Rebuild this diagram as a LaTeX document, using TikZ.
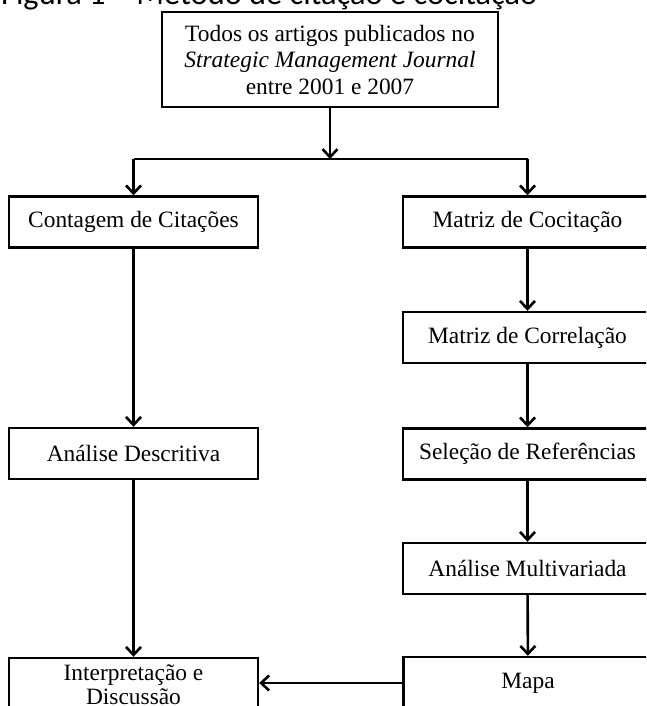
\documentclass[tikz,border=0pt]{standalone}
\usepackage{fontspec}
\setmainfont{Liberation Serif}
\newfontfamily\titlefont{Carlito}
\usetikzlibrary{arrows.meta}
\begin{document}
\begin{tikzpicture}[x=1pt,y=-1pt,
  box/.style={draw=black,line width=2.4pt,fill=white,inner sep=0pt,align=center,
    font=\fontsize{23.4}{24}\selectfont,minimum width=249pt,minimum height=51pt},
  conn/.style={draw=black,line width=2.6pt},
  arr/.style={conn,-{Straight Barb[length=8pt,width=15pt]}}]
\useasboundingbox (0,0) rectangle (646,706);
\clip (0,0) rectangle (646,706);
\fill[white] (0,0) rectangle (646,706);
\node[anchor=base west,inner sep=0pt,font=\titlefont\fontsize{32.4}{34}\selectfont] (title) at (1,5) {Figura 1 – Método de citação e cocitação};
\node[box,minimum width=336pt,minimum height=95pt,font=\fontsize{23.4}{26.5}\selectfont] (top) at (330,59.5)
  {Todos os artigos publicados no\\\textit{Strategic Management Journal}\\entre 2001 e 2007};
\node[box] (cont) at (133.5,222) {Contagem de Citações};
\node[box] (cocit) at (527.5,222) {Matriz de Cocitação};
\node[box] (correl) at (527.5,337.5) {Matriz de Correlação};
\node[box] (descr) at (133.5,453.5) {Análise Descritiva};
\node[box] (selec) at (527.5,454) {Seleção de Referências};
\node[box] (multi) at (527.5,568.5) {Análise Multivariada};
\node[box,minimum height=54pt] (interp) at (133.5,685) {Interpretação e\\Discussão};
\node[box,minimum height=52pt] (mapa) at (528,683) {Mapa};
\coordinate (split) at (330,159);
\draw[arr] (top.south) -- (split);
\draw[conn] (cont.north |- split) -- (cocit.north |- split);
\draw[arr] (cont.north |- split) -- (cont.north);
\draw[arr] (cocit.north |- split) -- (cocit.north);
\draw[arr] (cont) -- (descr);
\draw[arr] (descr) -- (interp);
\draw[arr] (cocit) -- (correl);
\draw[arr] (correl) -- (selec);
\draw[arr] (selec) -- (multi);
\draw[arr] (multi) -- (mapa);
\draw[arr] (mapa.west) -- (mapa.west -| interp.east);
\end{tikzpicture}
\end{document}
